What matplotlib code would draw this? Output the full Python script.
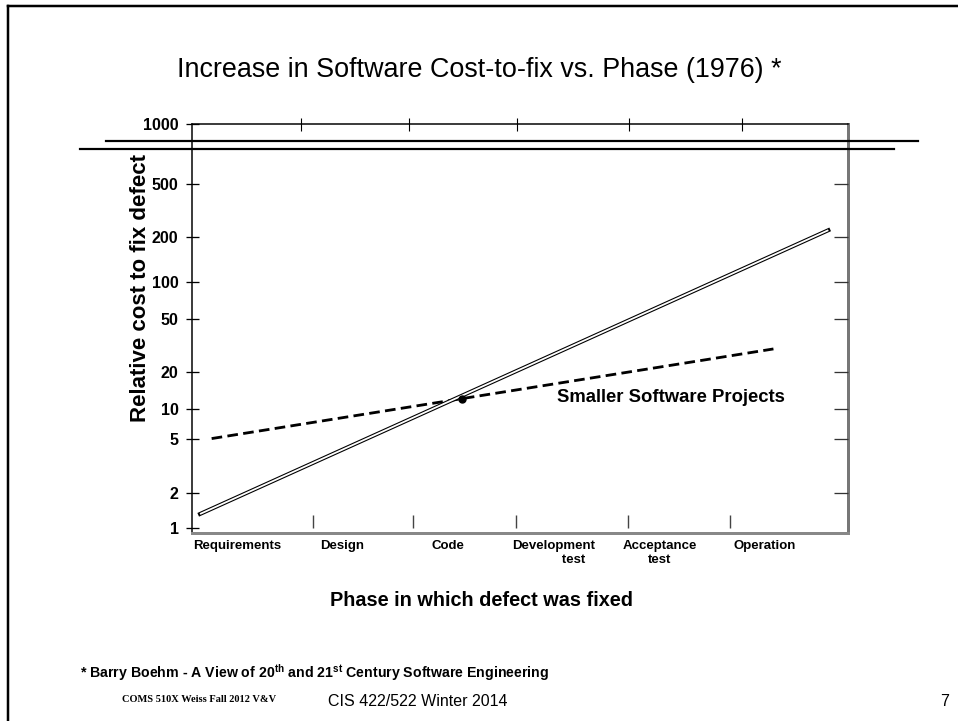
import numpy as np
import matplotlib
matplotlib.use("Agg")
import matplotlib.pyplot as plt
from matplotlib.lines import Line2D

plt.rcParams['font.family'] = ['Liberation Sans', 'DejaVu Sans']
plt.rcParams['mathtext.fontset'] = 'custom'
plt.rcParams['mathtext.rm'] = 'Liberation Sans'
plt.rcParams['mathtext.bf'] = 'Liberation Sans:bold'

# phases (x) and cost values (y)
phases = ['Requirements', 'Design', 'Code', 'Development\n           test', 'Acceptance\ntest', 'Operation']
phase_pos = [0, 1, 2, 3, 4, 5]
y_ticks = [1, 2, 5, 10, 20, 50, 100, 200, 500, 1000]
y_labels = ['1', '2', '5', '10', '20', '50', '100', '200', '500', '1000']

large_x = [-0.35, 5.6]
large_y = [1.32, 225]
small_x = [-0.24, 5.08]
small_y = [5.05, 29.8]
cross_x = [2.13]
cross_y = [12.1]

bottom_ticks = [0.72, 1.67, 2.64, 3.70, 4.67]
top_ticks = [0.61, 1.63, 2.65, 3.71, 4.78]

# the printed axis is not a clean log scale: map log10 values to the
# drawn heights of the tick marks (pixels above the bottom edge)
tick_height = [5, 40, 94, 124, 161, 214, 251, 296, 349, 409]
L = np.log10(y_ticks)
lo_slope = (tick_height[1] - tick_height[0]) / (L[1] - L[0])
hi_slope = (tick_height[-1] - tick_height[-2]) / (L[-1] - L[-2])
L_ext = np.concatenate([[-3], L, [6]])
H_ext = np.concatenate([[tick_height[0] - 3 * lo_slope], tick_height,
                        [tick_height[-1] + 3 * hi_slope]])


def fwd(v):
    v = np.maximum(np.asarray(v, dtype=float), 1e-3)
    return np.interp(np.log10(v), L_ext, H_ext)


def inv(h):
    return 10 ** np.interp(np.asarray(h, dtype=float), H_ext, L_ext)


W, H = 958, 721
px = 0.72  # points per pixel at dpi 100
fig = plt.figure(figsize=(W / 100, H / 100), dpi=100)


def fx(x):
    return x / W


def fy(y):
    return 1 - y / H


ax = fig.add_axes([fx(192), fy(533), fx(848) - fx(192), fy(124) - fy(533)])
ax.set_yscale('function', functions=(fwd, inv))
ax.set_ylim(float(inv(0)), 1000)
ax.set_xlim(-0.426, 5.786)

# larger projects: hollow double line
ax.plot(large_x, large_y, color='black', lw=4 * px, solid_capstyle='projecting', zorder=3)
ax.plot(large_x, large_y, color='white', lw=1.8 * px, solid_capstyle='butt', zorder=4)
# smaller projects: dashed line
ax.plot(small_x, small_y, color='black', lw=2.8 * px, dashes=(3.8, 1.9), zorder=3)
ax.plot(cross_x, cross_y, 'o', color='black', ms=5, zorder=5)

ax.text(3.03, 12.3, 'Smaller Software Projects', fontsize=13.3, fontweight='bold',
        ha='left', va='center')

ax.set_yticks(y_ticks, y_labels)
ax.tick_params(axis='y', direction='inout', length=13 * px, width=1.3 * px,
               labelsize=11.5, pad=5)
for t in ax.get_yticklabels():
    t.set_fontweight('bold')
ticks = ax.yaxis.get_major_ticks()
ticks[0].tick1line.set_visible(False)
ticks[-1].tick1line.set_visible(False)

ax.set_xticks(phase_pos, phases)
ax.tick_params(axis='x', length=0, labelsize=9.5, pad=5)
for t in ax.get_xticklabels():
    t.set_fontweight('bold')
    t.set_multialignment('center')

ax.vlines(bottom_ticks, 0.012, 0.044, transform=ax.get_xaxis_transform(),
          color='#444', lw=1.4 * px)

top = ax.secondary_xaxis('top')
top.set_xticks(top_ticks, [''] * len(top_ticks))
top.tick_params(direction='inout', length=13 * px, width=1.1 * px)
top.spines['top'].set_visible(False)

ax2 = ax.twinx()
ax2.set_yscale('function', functions=(fwd, inv))
ax2.set_ylim(ax.get_ylim())
ax2.set_yticks(y_ticks[1:-1], [''] * (len(y_ticks) - 2))
ax2.tick_params(axis='y', direction='in', length=14 * px, width=1.3 * px, color='#333')
for s in ax2.spines.values():
    s.set_visible(False)

ax.spines['left'].set_linewidth(1.5 * px)
ax.spines['top'].set_linewidth(1.5 * px)
ax.spines['right'].set_color('#777')
ax.spines['right'].set_linewidth(3 * px)
ax.spines['bottom'].set_color('#888')
ax.spines['bottom'].set_linewidth(3 * px)

fig.text(fx(140), fy(288), 'Relative cost to fix defect', fontsize=16, fontweight='bold',
         rotation=90, ha='center', va='center')

fig.text(fx(481), fy(601), 'Phase in which defect was fixed', fontsize=14.3,
         fontweight='bold', ha='center', va='center')

fig.text(fx(479), fy(70), 'Increase in Software Cost-to-fix vs. Phase (1976) *',
         fontsize=19.4, ha='center', va='center')

fig.text(fx(80), fy(673),
         r'* Barry Boehm - A View of 20$^{\mathbf{th}}$ and 21$^{\mathbf{st}}$ Century Software Engineering',
         fontsize=10.2, fontweight='bold', ha='left', va='center')
fig.text(fx(122), fy(699), 'COMS 510X Weiss Fall 2012 V&V', fontsize=7.5,
         fontweight='bold', family='Liberation Serif', ha='left', va='center')
fig.text(fx(328), fy(701), 'CIS 422/522 Winter 2014', fontsize=11.5, ha='left', va='center')
fig.text(fx(945), fy(701), '7', fontsize=11.5, ha='center', va='center')

# slide frame and the two heavy rules across the top of the plot
fig.add_artist(Line2D([fx(8), fx(958)], [fy(6), fy(6)], color='black', lw=2.5 * px))
fig.add_artist(Line2D([fx(8), fx(8)], [fy(6), fy(721)], color='black', lw=2.5 * px))
fig.add_artist(Line2D([fx(106), fx(918)], [fy(141), fy(141)], color='black', lw=2.2 * px))
fig.add_artist(Line2D([fx(80), fx(894)], [fy(149), fy(149)], color='black', lw=2.2 * px))

fig.savefig('out.png', dpi=100)
